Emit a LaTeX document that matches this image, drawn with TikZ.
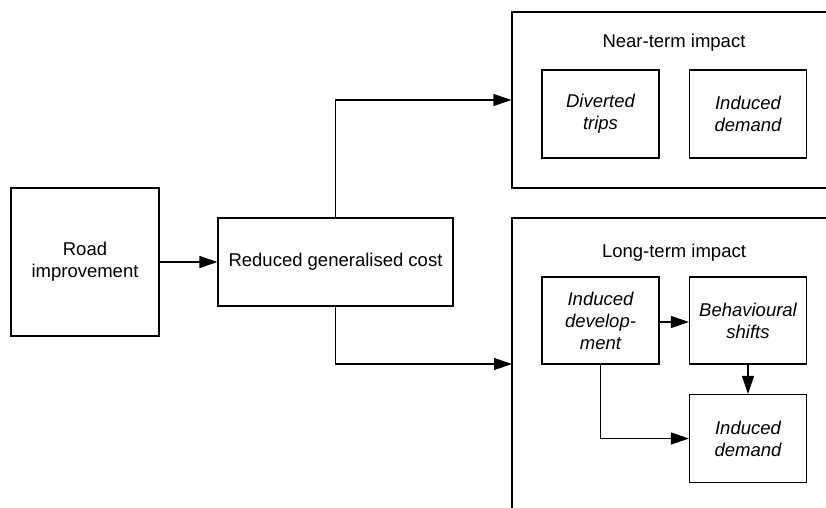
\documentclass[tikz,border=0pt]{standalone}
\usepackage{fontspec}
\setmainfont{Liberation Sans}
\usetikzlibrary{arrows.meta}
\begin{document}
\begin{tikzpicture}[x=1pt,y=-1pt,
  every node/.style={font=\fontsize{18.5pt}{22pt}\selectfont},
  box/.style={draw, line width=1.1pt, inner sep=0pt, align=center},
  ibox/.style={box, minimum width=117pt, minimum height=88pt, font=\fontsize{18.5pt}{22pt}\selectfont\itshape},
  frame/.style={draw, line width=1.1pt, inner sep=0pt, minimum width=338pt},
  title/.style={inner sep=0pt},
  conn/.style={line width=1.1pt, -{Triangle[length=18pt,width=12pt]}}]
\useasboundingbox (0,0) rectangle (826,507);
\clip (0,0) rectangle (826,507);
\fill[white] (0,0) rectangle (826,507);
\node[box, minimum width=148pt, minimum height=148pt] (road) at (85,262) {Road\\improvement};
\node[box, minimum width=235pt, minimum height=88pt] (red) at (335.5,262) {Reduced generalised cost};
\node[frame, minimum height=176pt] (near) at (681,100) {};
\node[frame, minimum height=342pt] (long) at (681,389) {};
\node[title] (neart) at (674,43) {Near-term impact};
\node[title] (longt) at (674,253) {Long-term impact};
\node[ibox] (div) at (600.5,114) {Diverted\\trips};
\node[ibox] (nd) at (748,114) {Induced\\demand};
\node[ibox, minimum height=87pt] (dev) at (600.5,320.5) {Induced\\develop-\\ment};
\node[ibox, minimum height=87pt] (beh) at (748,320.5) {Behavioural\\shifts};
\node[ibox] (ld) at (748,438.5) {Induced\\demand};
\coordinate (lin) at (512,364);
\draw[conn] (road) -- (red);
\draw[conn] (red.north) |- (near.west);
\draw[conn] (red.south) |- (lin);
\draw[conn] (dev.east |- 0,322) -- (beh.west |- 0,322);
\draw[conn] (beh) -- (ld);
\draw[conn] (dev.south) |- (ld.west);
\end{tikzpicture}
\end{document}
